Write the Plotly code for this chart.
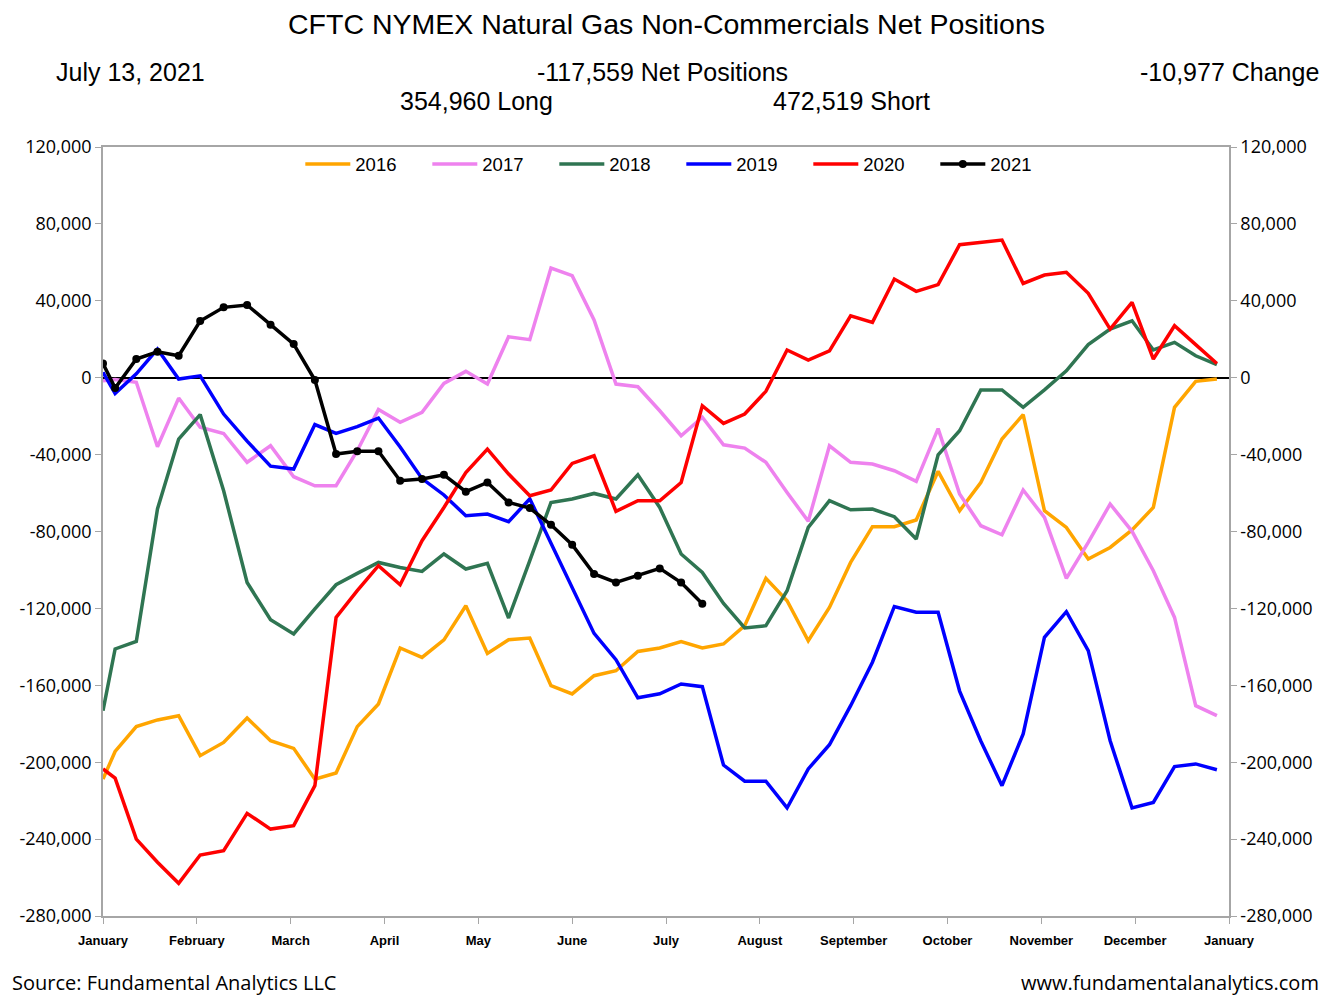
import pandas as pd
import plotly.graph_objects as go

# Report dates (plotted on a common calendar year); first point is the year-start value
dates = pd.to_datetime(["2021-01-01"]).append(pd.date_range("2021-01-05", "2021-12-28", freq="7D"))
x_pos = [(d.month - 1) + (d.day - 1) / d.days_in_month for d in dates]

month_labels = ["January", "February", "March", "April", "May", "June", "July",
                "August", "September", "October", "November", "December", "January"]

y2016 = [-208.8, -194.4, -181.5, -178, -175.8, -196.6, -189.7, -177, -188.8, -192.8, -208.8, -205.6,
         -181.5, -169.7, -140.6, -145.5, -136.4, -118.6, -143.4, -136.3, -135.4, -160.2, -164.5, -155,
         -152.4, -142.4, -140.6, -137.2, -140.6, -138.5, -129, -104.4, -116, -136.8, -119.5, -96.1,
         -77.5, -77.5, -74, -48.7, -69.2, -54.5, -31.9, -19.2, -69.2, -77.9, -94.3, -88.3, -79.2,
         -67.5, -15.4, -1.9, -0.7]
y2017 = [-1.6, -1, -2.4, -35.9, -10.6, -25.8, -29, -44, -35.4, -51.5, -56.2, -56.2, -38, -16.5,
         -23.2, -18, -3, 3.3, -3.3, 21.3, 19.8, 57, 53.1, 30, -3.3, -4.7, -17.2, -30.2, -20.6,
         -34.9, -36.6, -44, -59.7, -74.7, -35.4, -44, -44.9, -48.4, -53.9, -26.5, -60.5, -77,
         -81.7, -58.4, -72.7, -104.4, -85.7, -65.7, -79.9, -100.4, -124.7, -170.6, -175.8]
y2018 = [-173.2, -141.1, -137.2, -68.3, -31.9, -19.2, -58.8, -106.5, -125.9, -133.3, -120.3,
         -107.7, -101.8, -96.1, -98.7, -100.8, -91.7, -99.5, -96.6, -125, -95.2, -64.9, -63.1,
         -60.2, -63.1, -50.5, -67.5, -91.7, -101.3, -117.4, -130.2, -129, -110.8, -77.9, -64,
         -68.7, -68.3, -72.3, -83.9, -40.1, -27.6, -6.4, -6.4, -15.4, -6.3, 3.6, 17.2, 25.3,
         29.6, 14.4, 18.4, 11.4, 6.8]
y2019 = [2.8, -8.2, 2, 14.9, -0.7, 1, -18.9, -33, -46, -47.5, -24.4, -29, -25.5, -21, -36,
         -52.5, -61, -71.8, -70.9, -74.9, -63, -86, -110, -133, -146.7, -166.5, -164.4, -159.3,
         -160.7, -201.5, -209.9, -209.9, -223.8, -203.5, -190.9, -170.6, -148, -119, -122, -122,
         -163, -189, -212.2, -185.3, -135, -121.7, -142, -188.8, -223.8, -220.9, -202.3, -200.9,
         -203.9]
y2020 = [-203.5, -208.3, -240, -252, -263, -248.3, -246, -226.6, -234.8, -233, -212.2, -124.7,
         -110.8, -97.8, -107.7, -84.8, -67.5, -49.3, -37.1, -50.1, -61.4, -58.4, -44.6, -40.6,
         -69.5, -64, -64, -54.5, -14.6, -23.8, -18.9, -7.1, 14.4, 9.2, 14, 32.2, 28.8, 51.3,
         44.9, 48.4, 69.2, 70.4, 71.6, 49, 53.4, 54.8, 43.9, 25.3, 39.2, 9.7, 27, 17.2, 7.4]
y2021 = [7.4, -5.4, 9.7, 13.5, 11.4, 29.5, 36.6, 37.8, 27.6, 17.5, -1.2, -39.7, -38.3, -38.3,
         -53.6, -52.7, -50.5, -59.3, -54.5, -64.9, -67.8, -76.5, -86.9, -102.1, -106.5, -103,
         -99.2, -106.582, -117.559]

series = [("2016", y2016, "#FFA500"), ("2017", y2017, "#EE82EE"), ("2018", y2018, "#2F7552"),
          ("2019", y2019, "#0000FF"), ("2020", y2020, "#FF0000")]

y_ticks = [120000, 80000, 40000, 0, -40000, -80000, -120000, -160000, -200000, -240000, -280000]
y_tick_text = [f"{v:,}" for v in y_ticks]
y_range = [-280000, 120000]

fig = go.Figure()
for name, vals, col in series:
    fig.add_trace(go.Scatter(x=x_pos[:len(vals)], y=[v * 1000 for v in vals], name=name,
                             mode="lines", line=dict(color=col, width=3.5)))
fig.add_trace(go.Scatter(x=x_pos[:len(y2021)], y=[v * 1000 for v in y2021], name="2021",
                         mode="lines+markers", line=dict(color="black", width=3.5),
                         marker=dict(color="black", size=8), yaxis="y2"))

tick_font = dict(family="Open Sans", size=18, color="black")
axis_common = dict(range=y_range, tickvals=y_ticks, ticktext=y_tick_text, showgrid=False,
                   ticks="outside", ticklen=6, tickcolor="#A6A6A6", showline=True,
                   linecolor="#A6A6A6", linewidth=1.5, tickfont=tick_font)

fig.update_layout(
    width=1325, height=996,
    margin=dict(l=103, r=94, t=147, b=80),
    paper_bgcolor="white", plot_bgcolor="white",
    showlegend=True,
    legend=dict(orientation="h", x=0.5136, xanchor="center", y=1.002, yanchor="top",
                font=dict(family="Liberation Sans, Arial", size=18.5, color="black"),
                bgcolor="rgba(0,0,0,0)", entrywidth=67, itemwidth=45),
    xaxis=dict(range=[0, 12], tickvals=list(range(13)), ticktext=month_labels,
               showgrid=False, zeroline=False, ticks="outside", ticklen=6,
               tickcolor="#A6A6A6", showline=True, linecolor="#A6A6A6", linewidth=1.5,
               mirror=True, ticklabelstandoff=6,
               tickfont=dict(family="Liberation Sans, Arial", size=13, color="black",
                             weight="bold")),
    yaxis=dict(**axis_common, zeroline=True, zerolinecolor="black", zerolinewidth=1.5),
    yaxis2=dict(**axis_common, overlaying="y", side="right", zeroline=False),
)

def ann(text, x, y, xanchor, size=25, family="Liberation Sans, Arial"):
    fig.add_annotation(text=text, x=x, y=y, xref="paper", yref="paper", xanchor=xanchor,
                       yanchor="middle", showarrow=False,
                       font=dict(family=family, size=size, color="black"))

ann("CFTC NYMEX Natural Gas Non-Commercials Net Positions", 0.5, 1.160, "center", size=28.5)
ann("July 13, 2021", -0.0435, 1.0975, "left")
ann("-117,559 Net Positions", 0.4965, 1.0975, "center")
ann("-10,977 Change", 1.0815, 1.0975, "right")
ann("354,960 Long", 0.332, 1.0598, "center")
ann("472,519 Short", 0.665, 1.0598, "center")
ann("Source: Fundamental Analytics LLC", -0.0824, -0.0871, "left", size=20, family="Open Sans")
ann("www.fundamentalanalytics.com", 1.0815, -0.0871, "right", size=20, family="Open Sans")

fig.write_html("out.html", config={"displayModeBar": False},
               post_script="document.body.style.margin='0px';")
